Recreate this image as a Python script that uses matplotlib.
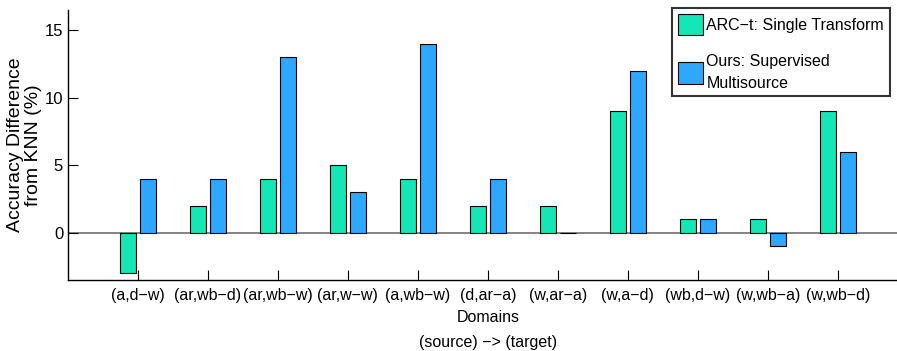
import matplotlib
matplotlib.use("Agg")
import matplotlib.pyplot as plt
from matplotlib import font_manager as fm
import numpy as np

categories = ["(a,d\u2212w)", "(ar,wb\u2212d)", "(ar,wb\u2212w)", "(ar,w\u2212w)", "(a,wb\u2212w)",
              "(d,ar\u2212a)", "(w,ar\u2212a)", "(w,a\u2212d)", "(wb,d\u2212w)", "(w,wb\u2212a)", "(w,wb\u2212d)"]
arc_t = [-3, 2, 4, 5, 4, 2, 2, 9, 1, 1, 9]
ours = [4, 4, 13, 3, 14, 4, 0, 12, 1, -1, 6]
series_labels = ["ARC\u2212t: Single Transform", "Ours: Supervised\nMultisource"]
yticks = [0, 5, 10, 15]

try:
    fm.findfont(fm.FontProperties(family="Liberation Sans Narrow"), fallback_to_default=False)
    narrow = "Liberation Sans Narrow"
    fs = 14
except Exception:
    narrow = "Liberation Sans"
    fs = 11.5

plt.rcParams['font.family'] = [narrow, 'DejaVu Sans']

fig = plt.figure(figsize=(8.97, 3.51), dpi=100)
ax = fig.add_axes([68/897, 71/351, (907.7-68)/897, (341-71)/351])

x = np.arange(1, len(categories) + 1)
w = 0.229
off = 0.143
green = "#14E6B6"
blue = "#2EA8FF"
ax.axhline(0, color="#6e6e6e", lw=1.2, zorder=1)
b1 = ax.bar(x - off, arc_t, w, color=green, edgecolor="black", linewidth=0.8, zorder=2, label=series_labels[0])
b2 = ax.bar(x + off, ours, w, color=blue, edgecolor="black", linewidth=0.8, zorder=2, label=series_labels[1])

ax.set_xlim(0, 12)
ax.set_ylim(-3.5, 16.5)
ax.set_xticks(x)
ax.set_xticklabels(categories, fontsize=fs)
ax.set_yticks(yticks)
ax.set_yticklabels([str(t) for t in yticks], fontsize=fs + 0.5)
ax.tick_params(direction="in", length=7, width=0.8)
ax.tick_params(axis="x", pad=6)
ax.tick_params(axis="y", pad=3.5)
for s in ["top", "right"]:
    ax.spines[s].set_visible(False)
for s in ["left", "bottom"]:
    ax.spines[s].set_linewidth(1.0)

ax.set_ylabel("Accuracy Difference\nfrom KNN (%)", fontsize=14, family=["Liberation Sans", "DejaVu Sans"],
              linespacing=1.05, labelpad=2)
ax.set_xlabel("Domains\n(source) \u2212> (target)", fontsize=fs, linespacing=1.8, labelpad=5)

leg = fig.legend(handles=[b1, b2], labels=series_labels, loc="upper left",
                 bbox_to_anchor=(672/897, 1 - 8/351), borderaxespad=0, fontsize=fs,
                 frameon=True, fancybox=False, edgecolor="black", handlelength=1.6,
                 handleheight=1.7, handletextpad=0.2, labelspacing=1.15, borderpad=0.35)
for t in leg.get_texts():
    t.set_linespacing(1.6)
leg.get_frame().set_linewidth(1.5)

fig.savefig("out.png", dpi=100)
